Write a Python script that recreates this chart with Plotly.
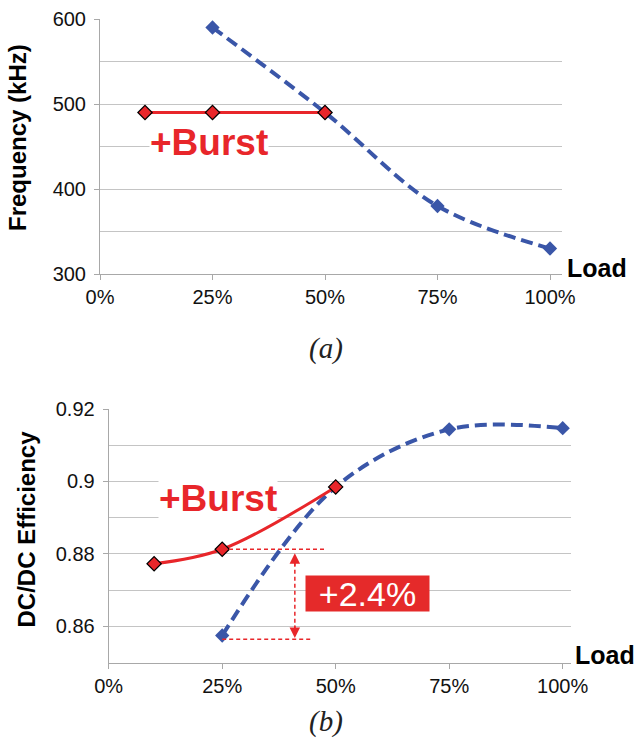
import plotly.graph_objects as go

W, H = 636, 741

# ---------------- data ----------------
load_ticks = [0, 0.25, 0.5, 0.75, 1.0]
load_labels = ["0%", "25%", "50%", "75%", "100%"]

# (a) switching frequency (kHz)
freq_load_base = [0.25, 0.5, 0.75, 1.0]
freq_base = [590, 490, 380, 330]
freq_load_burst = [0.10, 0.25, 0.5]
freq_burst = [490, 490, 490]

# (b) DC/DC efficiency
eff_load_base = [0.25, 0.5, 0.75, 1.0]
eff_base = [0.8575, 0.8985, 0.9144, 0.9147]
eff_load_burst = [0.10, 0.25, 0.5]
eff_burst = [0.8773, 0.8813, 0.8985]

freq_ticks = [300, 400, 500, 600]
eff_ticks = [0.86, 0.88, 0.90, 0.92]
eff_tick_labels = ["0.86", "0.88", "0.9", "0.92"]

BLUE = "#3A56A8"
RED = "#E8262A"
GRID = "#C4C4C4"
AXIS = "#A8A8A8"
FONT = "Liberation Sans, Arial, sans-serif"


def px_x(p):
    return p / W


def px_y(p):
    return 1 - p / H


fig = go.Figure()

# (a)
fig.add_trace(go.Scatter(x=freq_load_base, y=freq_base, mode="lines+markers",
                         line=dict(color=BLUE, width=4, dash="12px,6px", shape="spline", smoothing=1),
                         marker=dict(symbol="diamond", size=11, color=BLUE),
                         xaxis="x", yaxis="y", showlegend=False))
fig.add_trace(go.Scatter(x=freq_load_burst, y=freq_burst, mode="lines+markers",
                         line=dict(color=RED, width=3),
                         marker=dict(symbol="diamond", size=11, color=RED, line=dict(color="black", width=1.2)),
                         xaxis="x", yaxis="y", showlegend=False))
# (b)
fig.add_trace(go.Scatter(x=eff_load_base, y=eff_base, mode="lines+markers",
                         line=dict(color=BLUE, width=4, dash="12px,6px", shape="spline", smoothing=1),
                         marker=dict(symbol="diamond", size=11, color=BLUE),
                         xaxis="x2", yaxis="y2", showlegend=False))
fig.add_trace(go.Scatter(x=eff_load_burst, y=eff_burst, mode="lines+markers",
                         line=dict(color=RED, width=3, shape="spline", smoothing=1),
                         marker=dict(symbol="diamond", size=11, color=RED, line=dict(color="black", width=1.2)),
                         xaxis="x2", yaxis="y2", showlegend=False))

common_x = dict(tickvals=load_ticks, ticktext=load_labels, showgrid=False, showline=True,
                linecolor=AXIS, linewidth=1, ticks="outside", ticklen=5, tickcolor=AXIS,
                tickfont=dict(family=FONT, size=20, color="#111"), zeroline=False, fixedrange=True,
                automargin=False)
common_y = dict(showgrid=True, gridcolor=GRID, gridwidth=1, showline=True, linecolor=AXIS,
                linewidth=1, ticks="outside", ticklen=5, tickcolor=AXIS, ticklabelstandoff=4,
                tickfont=dict(family=FONT, size=20, color="#111"), zeroline=False, fixedrange=True,
                automargin=False)

fig.update_layout(
    width=W, height=H, margin=dict(l=0, r=0, t=0, b=0, autoexpand=False),
    paper_bgcolor="white", plot_bgcolor="white",
    xaxis=dict(domain=[px_x(100), px_x(562)], range=[0, 462 / 450], anchor="y", **common_x),
    yaxis=dict(domain=[px_y(274), px_y(19)], range=[300, 600], tickvals=freq_ticks, anchor="x",
               minor=dict(dtick=50, tick0=300, showgrid=True, gridcolor=GRID, gridwidth=1), **common_y),
    xaxis2=dict(domain=[px_x(108.7), px_x(570.7)], range=[0, 462 / 454], anchor="y2", **common_x),
    yaxis2=dict(domain=[px_y(662.7), px_y(409)], range=[0.85, 0.92], tickvals=eff_ticks,
                ticktext=eff_tick_labels, anchor="x2",
                minor=dict(dtick=0.01, tick0=0.85, showgrid=True, gridcolor=GRID, gridwidth=1), **common_y),
)

ann = []
# axis titles
ann.append(dict(xref="paper", yref="paper", x=px_x(17), y=px_y(138), text="<b>Frequency (kHz)</b>",
                textangle=-90, showarrow=False, font=dict(family=FONT, size=24, color="black"),
                xanchor="center", yanchor="middle"))
ann.append(dict(xref="paper", yref="paper", x=px_x(25.5), y=px_y(529), text="<b>DC/DC Efficiency</b>",
                textangle=-90, showarrow=False, font=dict(family=FONT, size=24, color="black"),
                xanchor="center", yanchor="middle"))
ann.append(dict(xref="paper", yref="paper", x=px_x(596.5), y=px_y(268), text="<b>Load</b>",
                showarrow=False, font=dict(family=FONT, size=25, color="black"),
                xanchor="center", yanchor="middle"))
ann.append(dict(xref="paper", yref="paper", x=px_x(605), y=px_y(655), text="<b>Load</b>",
                showarrow=False, font=dict(family=FONT, size=25, color="black"),
                xanchor="center", yanchor="middle"))

# captions
ann.append(dict(xref="paper", yref="paper", x=px_x(326), y=px_y(348), text="<i>(a)</i>",
                showarrow=False, font=dict(family="Liberation Serif, Times New Roman, serif", size=29, color="#222"),
                xanchor="center", yanchor="middle"))
ann.append(dict(xref="paper", yref="paper", x=px_x(326), y=px_y(721), text="<i>(b)</i>",
                showarrow=False, font=dict(family="Liberation Serif, Times New Roman, serif", size=29, color="#222"),
                xanchor="center", yanchor="middle"))

# +Burst labels
ann.append(dict(xref="paper", yref="paper", x=px_x(209), y=px_y(143), text="<b>+Burst</b>",
                showarrow=False, font=dict(family=FONT, size=37, color=RED), bgcolor="white",
                xanchor="center", yanchor="middle", borderpad=0))
ann.append(dict(xref="paper", yref="paper", x=px_x(218), y=px_y(498), text="<b>+Burst</b>",
                showarrow=False, font=dict(family=FONT, size=37, color=RED), bgcolor="white",
                xanchor="center", yanchor="middle", borderpad=0))

# +2.4% box
ann.append(dict(xref="paper", yref="paper", x=px_x(367.5), y=px_y(593.5), text="+2.4%",
                showarrow=False, font=dict(family=FONT, size=34, color="white"), bgcolor="#E52A2A",
                xanchor="center", yanchor="middle", width=121, height=33, borderpad=1))

# arrowheads for the +2.4% span
xa = 0.41
ann.append(dict(xref="x2", yref="y2", x=xa, y=0.8802, ax=0, ay=14, axref="pixel", ayref="pixel",
                text="", showarrow=True, arrowhead=2, arrowsize=1.4, arrowwidth=1.5, arrowcolor=RED,
                standoff=0))
ann.append(dict(xref="x2", yref="y2", x=xa, y=0.8568, ax=0, ay=-14, axref="pixel", ayref="pixel",
                text="", showarrow=True, arrowhead=2, arrowsize=1.4, arrowwidth=1.5, arrowcolor=RED,
                standoff=0))
fig.update_layout(annotations=ann)

shapes = [
    dict(type="line", xref="x2", yref="y2", x0=0.265, x1=0.476, y0=0.8813, y1=0.8813,
         line=dict(color=RED, width=1.5, dash="4px,3px")),
    dict(type="line", xref="x2", yref="y2", x0=0.25, x1=0.45, y0=0.8565, y1=0.8565,
         line=dict(color=RED, width=1.5, dash="4px,3px")),
    dict(type="line", xref="x2", yref="y2", x0=xa, x1=xa, y0=0.8795, y1=0.8575,
         line=dict(color=RED, width=1.5, dash="4px,3px")),
]
fig.update_layout(shapes=shapes)

fig.write_html("out.html")
